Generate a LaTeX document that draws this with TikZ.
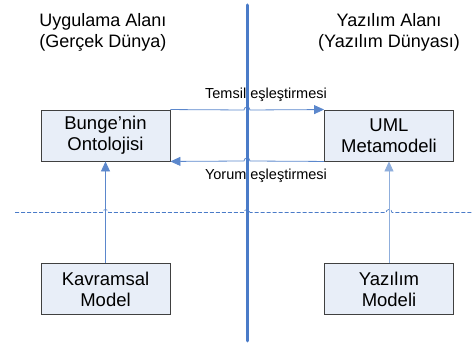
\documentclass[tikz,border=0pt]{standalone}
\usepackage{fontspec}
\setmainfont{Liberation Sans}
\usetikzlibrary{arrows.meta}

\definecolor{barblue}{HTML}{4A7BC8}
\definecolor{linkblue}{HTML}{5B87CC}
\definecolor{paleblue}{HTML}{8FAEDC}
\definecolor{boxfill}{HTML}{E8EEF8}

\tikzset{
  kutu/.style={draw=black!75, line width=0.9pt, fill=boxfill, minimum width=129pt,
    minimum height=51pt, align=center, font=\fontsize{18.5}{21}\selectfont, inner sep=2pt},
  baslik/.style={align=center, font=\fontsize{18}{21}\selectfont},
  etiket/.style={font=\fontsize{14.5}{16}\selectfont},
  link/.style={line width=0.8pt, -{Triangle[length=10pt,width=9pt]}}
}

\begin{document}
\begin{tikzpicture}[x=1pt, y=1pt]
  \useasboundingbox (0,0) rectangle (472,345);
  % titles
  \node[baslik] (uygTitle) at (103,312.5) {Uygulama Alanı\\(Gerçek Dünya)};
  \node[baslik] (yazTitle) at (389,312.5) {Yazılım Alanı\\(Yazılım Dünyası)};
  % dashed separator with hops
  \draw[barblue, dash pattern=on 4pt off 2pt, line width=0.7pt] (15,132.5) -- (102.5,132.5) arc[start angle=180, end angle=0, radius=3]
    -- (244,132.5) arc[start angle=180, end angle=0, radius=3]
    -- (386,132.5) arc[start angle=180, end angle=0, radius=3] -- (472,132.5);
  % boxes
  \node[kutu] (bunge) at (105.5,209.5) {Bunge’nin\\Ontolojisi};
  \node[kutu] (uml) at (389,209.5) {UML\\Metamodeli};
  \node[kutu] (kavram) at (105.5,56) {Kavramsal\\Model};
  \node[kutu] (yazmodel) at (389,56) {Yazılım\\Modeli};
  % mappings
  \draw[link, linkblue] (bunge.north east) -- (244,235) arc[start angle=180, end angle=0, radius=3] -- (uml.north west);
  \draw[link, linkblue] (uml.south west) -- (250,184) arc[start angle=0, end angle=180, radius=3] -- (bunge.south east);
  \node[etiket] (temsil) at (266,250) {Temsil eşleştirmesi};
  \node[etiket] (yorum) at (266,169) {Yorum eşleştirmesi};
  % up arrows
  \draw[link, linkblue] (kavram) -- (bunge);
  \draw[link, paleblue] (yazmodel) -- (uml);
  % middle bar
  \draw[barblue, line width=3pt, line cap=round] (247,340) -- (247,4);
\end{tikzpicture}
\end{document}
